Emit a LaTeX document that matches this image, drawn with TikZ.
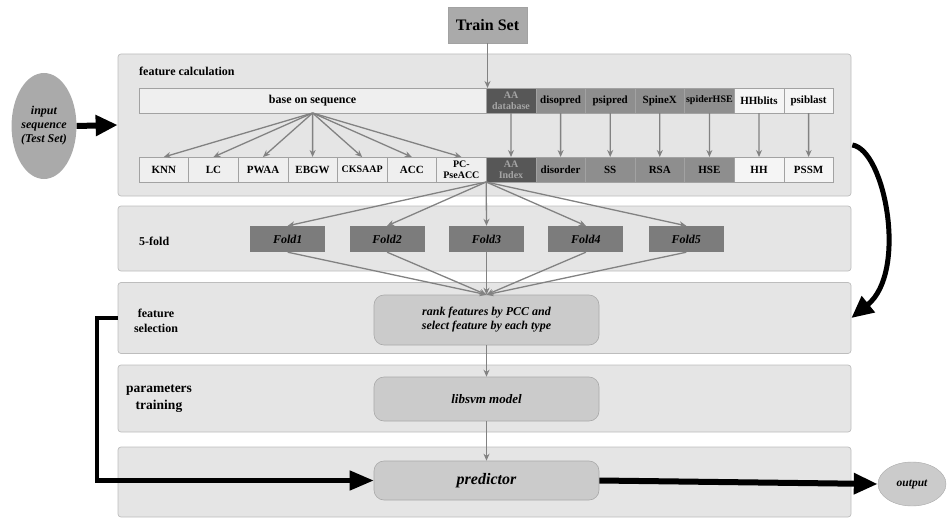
\documentclass[tikz,border=0pt]{standalone}
\usepackage{fontspec}
\setmainfont{Liberation Serif}
\usetikzlibrary{shapes,arrows.meta,positioning,calc}

\definecolor{panelfill}{HTML}{E5E5E5}
\definecolor{panelline}{HTML}{BDBDBD}
\definecolor{cellline}{HTML}{A2A2A2}
\definecolor{lightcell}{HTML}{EFEFEF}
\definecolor{whitecell}{HTML}{F5F5F5}
\definecolor{darkcell}{HTML}{575757}
\definecolor{darktext}{HTML}{A5A5A5}
\definecolor{midcell}{HTML}{8E8E8E}
\definecolor{foldfill}{HTML}{7C7C7C}
\definecolor{stagefill}{HTML}{CBCBCB}
\definecolor{stageline}{HTML}{A9A9A9}
\definecolor{trainfill}{HTML}{AAAAAA}
\definecolor{arrowgray}{HTML}{828282}

\newcommand\cellfont{\fontsize{11}{11}\selectfont\bfseries}
\newcommand\twofont{\fontsize{10}{10.5}\selectfont\bfseries}
\newcommand\titlefont{\fontsize{12}{15}\selectfont\bfseries}
\newcommand\foldfont{\fontsize{12}{14}\selectfont\bfseries\itshape}

\tikzstyle{panel} = [draw=panelline, fill=panelfill, rounded corners=3pt, line width=0.7pt, inner sep=0pt, minimum width=733pt]
\tikzstyle{cell} = [draw=cellline, line width=0.5pt, outer sep=0pt, minimum width=49.6pt, minimum height=25pt, inner sep=0pt, align=center, font=\cellfont]
\tikzstyle{fold} = [fill=foldfill, minimum width=75pt, minimum height=26pt, inner sep=0pt, font=\foldfont]
\tikzstyle{stage} = [draw=stageline, fill=stagefill, rounded corners=10pt, line width=0.6pt, minimum width=225pt, inner sep=0pt, align=center, font=\foldfont]
\tikzstyle{title} = [font=\titlefont, inner sep=0pt, align=center]
\tikzstyle{flow} = [draw=arrowgray, line width=1.3pt, -{Stealth[length=7pt,width=6pt]}]
\tikzstyle{bigflow} = [draw=black, line width=5pt, -{Triangle[length=22pt,width=20pt]}]

\begin{document}
\begin{tikzpicture}[x=1pt,y=-1pt]
	\useasboundingbox (0,0) rectangle (948,519);

	% the five stages
	\node [panel,minimum height=142pt] (calcpanel) at (484.5,125) {};
	\node [panel,minimum height=65pt] (foldpanel) at (484.5,238.5) {};
	\node [panel,minimum height=71pt] (selpanel) at (484.5,318) {};
	\node [panel,minimum height=67pt] (trainpanel) at (484.5,398.5) {};
	\node [panel,minimum height=70pt] (predpanel) at (484.5,482) {};

	\node [title,anchor=west] (calctitle) at (139,71) {feature calculation};
	\node [title,anchor=west] (foldtitle) at (139,241) {5-fold};
	\node [title] (seltitle) at (156,321) {feature\\selection};
	\node [title,font=\fontsize{13.5}{17}\selectfont\bfseries] (traintitle) at (159,399) {parameters\\training};

	% inputs
	\node [draw=cellline,fill=trainfill,minimum width=79pt,minimum height=36pt,inner sep=0pt,font=\fontsize{16}{18}\selectfont\bfseries] (trainset) at (487.5,25) {Train Set};
	\node [ellipse,fill=trainfill,minimum width=58pt,minimum height=106pt,inner sep=0pt,align=center,font=\foldfont] (inputseq) at (44,126) {input\\sequence\\(Test Set)};

	% tools row
	\node [cell,fill=lightcell,minimum width=347.2pt,font=\fontsize{12}{12}\selectfont\bfseries] (baseseq) at (312.6,100.5) {base on sequence};
	\node [cell,fill=darkcell,font=\twofont,text=darktext,right=0pt of baseseq] (aadb) {AA\\database};
	\node [cell,fill=midcell,right=0pt of aadb] (disopred) {disopred};
	\node [cell,fill=midcell,right=0pt of disopred] (psipred) {psipred};
	\node [cell,fill=midcell,right=0pt of psipred] (spinex) {SpineX};
	\node [cell,fill=midcell,font=\twofont,right=0pt of spinex] (spiderhse) {spiderHSE};
	\node [cell,fill=whitecell,right=0pt of spiderhse] (hhblits) {HHblits};
	\node [cell,fill=whitecell,right=0pt of hhblits] (psiblast) {psiblast};

	% features row
	\node [cell,fill=lightcell] (knn) at (163.8,169.5) {KNN};
	\node [cell,fill=lightcell,right=0pt of knn] (lc) {LC};
	\node [cell,fill=lightcell,right=0pt of lc] (pwaa) {PWAA};
	\node [cell,fill=lightcell,right=0pt of pwaa] (ebgw) {EBGW};
	\node [cell,fill=lightcell,font=\twofont,right=0pt of ebgw] (cksaap) {CKSAAP};
	\node [cell,fill=lightcell,right=0pt of cksaap] (acc) {ACC};
	\node [cell,fill=lightcell,font=\twofont,right=0pt of acc] (pcpse) {PC-\\PseACC};
	\node [cell,fill=darkcell,font=\twofont,text=darktext,right=0pt of pcpse] (aaindex) {AA\\Index};
	\node [cell,fill=midcell,right=0pt of aaindex] (disorder) {disorder};
	\node [cell,fill=midcell,right=0pt of disorder] (ss) {SS};
	\node [cell,fill=midcell,right=0pt of ss] (rsa) {RSA};
	\node [cell,fill=midcell,right=0pt of rsa] (hse) {HSE};
	\node [cell,fill=whitecell,right=0pt of hse] (hh) {HH};
	\node [cell,fill=whitecell,right=0pt of hh] (pssm) {PSSM};

	% folds
	\node [fold] (fold3) at (486.5,239) {Fold3};
	\node [fold,left=24pt of fold3] (fold2) {Fold2};
	\node [fold,left=24pt of fold2] (fold1) {Fold1};
	\node [fold,right=24pt of fold3] (fold4) {Fold4};
	\node [fold,right=25pt of fold4] (fold5) {Fold5};

	% model stages
	\node [stage,minimum height=50pt] (rank) at (486.5,320) {rank features by PCC and\\select feature by each type};
	\node [stage,minimum height=44pt,font=\fontsize{13}{15}\selectfont\bfseries\itshape] (libsvm) at (486.5,399) {libsvm model};
	\node [stage,minimum height=39pt,font=\fontsize{16}{18}\selectfont\bfseries\itshape] (predictor) at (486.5,480.5) {predictor};
	\node [ellipse,draw=stageline,fill=stagefill,minimum width=68pt,minimum height=44pt,inner sep=0pt,font=\fontsize{11.5}{13}\selectfont\bfseries\itshape] (output) at (912,484) {output};

	% gray arrows
	\draw [flow] (trainset.south) -- (trainset.south |- aadb.north);
	\foreach \t in {knn,lc,pwaa,ebgw,cksaap,acc,pcpse}
		\draw [flow] (baseseq.south) -- (\t.north);
	\foreach \s/\t in {aadb/aaindex,disopred/disorder,psipred/ss,spinex/rsa,spiderhse/hse,hhblits/hh,psiblast/pssm}
		\draw [flow] (\s.south) -- (\t.north);
	\coordinate (allfeat) at (aaindex.south west);
	\foreach \f in {fold1,fold2,fold3,fold4,fold5} {
		\draw [flow] (allfeat) -- (\f.north);
		\draw [flow] (\f.south) -- (rank.north);
	}
	\draw [flow] (rank) -- (libsvm);
	\draw [flow,line width=0.9pt] (libsvm) -- (predictor);

	% black arrows
	\draw [bigflow,line width=6pt] (inputseq.east) -- (calcpanel.west);
	\draw [bigflow] ($(calcpanel.east)+(1,20)$) .. controls (885,150) and (908,272) .. (selpanel.east);
	\coordinate (bend) at (97,318);
	\draw [bigflow,line width=4.5pt,-{Triangle[length=24pt,width=19pt]}] (selpanel.west) -- (bend) |- (predictor.west);
	\draw [bigflow,line width=6pt,-{Triangle[length=24pt,width=20pt]}] (predictor.east) -- (output.west);
\end{tikzpicture}
\end{document}
